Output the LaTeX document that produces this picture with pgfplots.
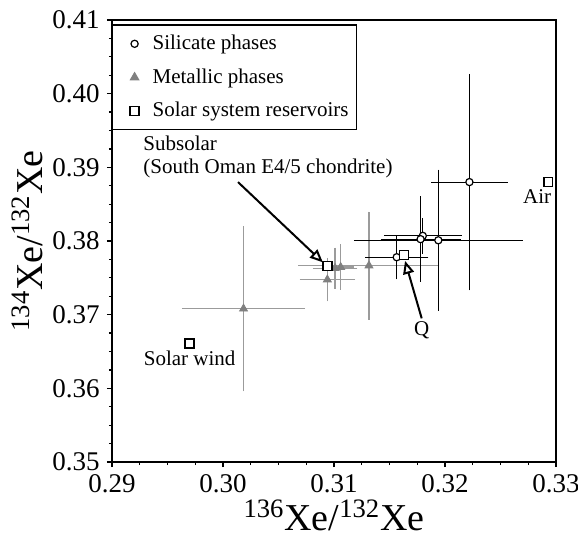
\documentclass[border=0pt]{standalone}
\usepackage{fontspec}
\setmainfont{Liberation Serif}
\usepackage{pgfplots}
\usepackage{pgfplotstable}
\pgfplotsset{compat=1.18}
\usetikzlibrary{arrows.meta}
\definecolor{metal}{RGB}{128,128,128}
\definecolor{metalbar}{RGB}{155,155,155}

% metallic phases: x, y, symmetric errors
\pgfplotstableread{
x        y        ex       ey
0.30185  0.3708   0.00555  0.0112
0.3094   0.37475  0.0025   0.00295
0.3101   0.3763   0.0020   0.0028
0.3106   0.37645  0.0012   0.0031
0.31315  0.37665  0.00635  0.00735
}\metallic

% silicate phases
\pgfplotstableread{
x        y        ex       ey
0.3222   0.3880   0.00345  0.0147
0.3180   0.3807   0.0035   0.0024
0.3178   0.38025  0.0036   0.0058
0.3194   0.3801   0.0076   0.0096
0.31565  0.3778   0.00285  0.0030
}\silicate

% solar system reservoirs: solar wind, subsolar, Q, air
\pgfplotstableread{
x        y
0.2970   0.3661
0.3094   0.3766
0.3163   0.3781
0.3293   0.3880
}\reservoirs

\begin{document}
\begin{tikzpicture}
\begin{axis}[
  scale only axis,
  width=222pt, height=221pt,
  xmin=0.29, xmax=0.33, ymin=0.35, ymax=0.41,
  xtick={0.29,0.30,0.31,0.32,0.33},
  ytick={0.35,0.36,0.37,0.38,0.39,0.40,0.41},
  minor x tick num=3, minor y tick num=3,
  tick align=outside,
  xtick pos=left, ytick pos=left,
  major tick length=2.6pt, minor tick length=1.6pt,
  tick style={black, line width=0.6pt},
  axis line style={line width=0.6pt},
  ticklabel style={font=\fontsize{13.5}{15}\selectfont},
  /pgf/number format/assume math mode=true,
  xticklabel style={/pgf/number format/fixed, /pgf/number format/fixed zerofill, /pgf/number format/precision=2},
  yticklabel style={/pgf/number format/fixed, /pgf/number format/fixed zerofill, /pgf/number format/precision=2},
  scaled ticks=false,
  xlabel={\textsuperscript{136}Xe/\textsuperscript{132}Xe},
  ylabel={\textsuperscript{134}Xe/\textsuperscript{132}Xe},
  label style={font=\fontsize{19}{22}\selectfont},
  xlabel style={yshift=3pt},
  ylabel style={yshift=-2pt},
  legend style={at={(0.0,0.99)}, anchor=north west, draw=black, line width=0.6pt,
    font=\fontsize{10.5}{12}\selectfont, row sep=4pt, inner xsep=2pt, inner ysep=3pt},
  legend cell align=left,
  legend image code/.code={
    \path[draw=none, fill=none] (-9pt,0pt) -- (7pt,0pt);
    \draw[#1] plot coordinates {(0pt,0pt)};
  },
]
\coordinate (sw) at (rel axis cs:0,0);

% metallic phases
\addplot[only marks, mark=triangle*, mark size=2.3pt, color=metal, fill=metal, forget plot,
  error bars/.cd, x dir=both, x explicit, y dir=both, y explicit, error mark=none,
  error bar style={metalbar, line width=0.7pt}]
  table[x=x, y=y, x error=ex, y error=ey] {\metallic};

% silicate phases
\addplot[only marks, mark=*, mark size=1.8pt, draw=black, fill=white, line width=0.6pt, forget plot,
  error bars/.cd, x dir=both, x explicit, y dir=both, y explicit, error mark=none,
  error bar style={black, line width=0.55pt}]
  table[x=x, y=y, x error=ex, y error=ey] {\silicate};

% reservoirs
\addplot[only marks, mark=square*, mark size=2.2pt, draw=black, fill=white, line width=0.8pt, forget plot]
  table[x=x, y=y] {\reservoirs};

\addlegendimage{only marks, mark=*, mark size=1.8pt, draw=black, fill=white, line width=0.6pt}
\addlegendentry{Silicate phases}
\addlegendimage{only marks, mark=triangle*, mark size=2.3pt, color=metal, fill=metal}
\addlegendentry{Metallic phases}
\addlegendimage{only marks, mark=square*, mark size=2.2pt, draw=black, fill=white, line width=0.8pt}
\addlegendentry{Solar system reservoirs}

% annotations
\node[anchor=west, align=left, font=\fontsize{10.5}{11.5}\selectfont] at (axis cs:0.2922,0.3914)
  {Subsolar\\(South Oman E4/5 chondrite)};
\draw[line width=1pt, -{Triangle[open, length=6.5pt, width=5.5pt, line width=1pt]}]
  (axis cs:0.30135,0.3880) -- (axis cs:0.3090,0.3771);
\draw[line width=1pt, -{Triangle[open, length=6.5pt, width=5.5pt, line width=1pt]}]
  (axis cs:0.3179,0.3695) -- (axis cs:0.3164,0.3773);
\node[font=\fontsize{10.5}{12}\selectfont] at (axis cs:0.3179,0.3679) {Q};
\node[anchor=east, inner sep=0pt, font=\fontsize{10.5}{12}\selectfont] at (axis cs:0.3296,0.3860) {Air};
\node[font=\fontsize{10.5}{12}\selectfont] at (axis cs:0.2970,0.3641) {Solar wind};
\end{axis}
\pgfresetboundingbox
\path[use as bounding box] (sw) ++(-56pt,-37.5pt) rectangle ++(289pt,268.5pt);
\end{tikzpicture}
\end{document}
